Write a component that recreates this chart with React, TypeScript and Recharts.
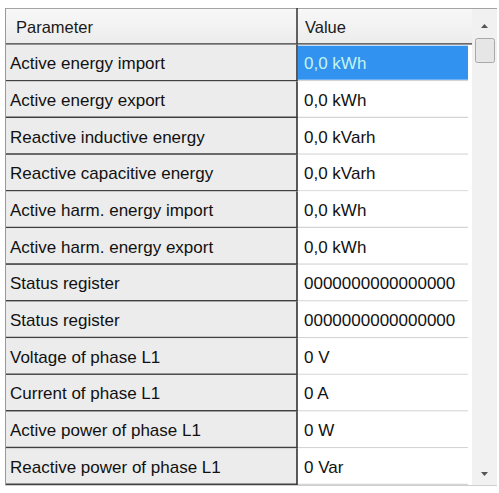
import { BarChart, Bar, XAxis, YAxis } from "recharts";

// column titles and table contents
const headers = ["Parameter", "Value"];
const parameters = [
  "Active energy import",
  "Active energy export",
  "Reactive inductive energy",
  "Reactive capacitive energy",
  "Active harm. energy import",
  "Active harm. energy export",
  "Status register",
  "Status register",
  "Voltage of phase L1",
  "Current of phase L1",
  "Active power of phase L1",
  "Reactive power of phase L1",
];
const values = [
  "0,0 kWh",
  "0,0 kWh",
  "0,0 kVarh",
  "0,0 kVarh",
  "0,0 kWh",
  "0,0 kWh",
  "0000000000000000",
  "0000000000000000",
  "0 V",
  "0 A",
  "0 W",
  "0 Var",
];
const selectedRow = 0;

const W = 467;
const H = 477;
const SPLIT = 292 / 467;
const FONT = "'Liberation Sans', Arial, sans-serif";

const rows = [
  { param: headers[0], value: headers[1], span: 1, kind: "header" },
  ...parameters.map((p, i) => ({ param: p, value: values[i], span: 1, kind: i === selectedRow ? "selected" : "row" })),
];

function RowShape(props: any) {
  const { x, y, width, height, payload } = props;
  const mid = x + width * SPLIT;
  const right = x + width;
  const bottom = y + height;
  const ty = y + height / 2 + 6;

  if (payload.kind === "header") {
    return (
      <g>
        <rect x={x} y={y} width={width} height={height} fill="url(#hdr)" />
        <line x1={x} x2={right} y1={y + 0.5} y2={y + 0.5} stroke="#a4a4a4" />
        <line x1={x} x2={right} y1={bottom - 1} y2={bottom - 1} stroke="#3c3c3c" strokeWidth={1.6} />
        <line x1={mid} x2={mid} y1={y} y2={bottom} stroke="#3c3c3c" strokeWidth={1.6} />
        <text x={x + 11} y={ty} fontSize={16.5} fill="#1a1a1a" fontFamily={FONT}>{payload.param}</text>
        <text x={mid + 8} y={ty} fontSize={16.5} fill="#1a1a1a" fontFamily={FONT}>{payload.value}</text>
      </g>
    );
  }

  const sel = payload.kind === "selected";
  return (
    <g>
      <rect x={x} y={y} width={mid - x} height={height} fill="#ececec" />
      <rect x={mid} y={y} width={right - mid} height={height} fill="#ffffff" />
      {sel && <rect x={mid + 1} y={y + 1} width={right - mid - 5} height={height - 3} fill="#3192ef" />}
      <line x1={x} x2={mid} y1={bottom - 1} y2={bottom - 1} stroke="#404040" strokeWidth={1.6} />
      <line x1={mid} x2={right - 4} y1={bottom - 1} y2={bottom - 1} stroke="#d4d4d4" strokeWidth={1.2} />
      <line x1={mid} x2={mid} y1={y} y2={bottom} stroke="#333333" strokeWidth={1.6} />
      <text x={x + 5} y={ty} fontSize={17} fill="#111" fontFamily={FONT}>{payload.param}</text>
      <text x={mid + 7} y={ty} fontSize={17} fill={sel ? "#c4f4ee" : "#111"} fontFamily={FONT}>{payload.value}</text>
    </g>
  );
}

function ScrollBar() {
  return (
    <svg width={25} height={H} style={{ position: "absolute", left: 472, top: 8 }}>
      <rect x={0} y={0} width={25} height={H} fill="#f1f1f1" />
      <line x1={0} x2={25} y1={0.5} y2={0.5} stroke="#a4a4a4" />
      <path d="M9 20 L16 20 L12.5 16 Z" fill="#555" />
      <rect x={3.5} y={30.5} width={19} height={24} rx={2} fill="#e6e6e6" stroke="#a9a9a9" />
      <path d="M9 464 L16 464 L12.5 468 Z" fill="#555" />
    </svg>
  );
}

export default function App() {
  return (
    <div style={{ position: "fixed", left: 0, top: 0, width: 499, height: 493, background: "#ffffff" }}>
      <div style={{ position: "absolute", left: 5, top: 8, width: W, height: H }}>
        <BarChart width={W} height={H} data={rows} layout="vertical" barCategoryGap={0}
          margin={{ top: 0, right: 0, bottom: 0, left: 0 }}>
          <defs>
            <linearGradient id="hdr" x1="0" y1="0" x2="0" y2="1">
              <stop offset="0%" stopColor="#f8f8f8" />
              <stop offset="100%" stopColor="#ececec" />
            </linearGradient>
          </defs>
          <XAxis type="number" domain={[0, 1]} hide />
          <YAxis type="category" dataKey="param" hide />
          <Bar dataKey="span" shape={RowShape} isAnimationActive={false} />
        </BarChart>
      </div>
      <div style={{ position: "absolute", left: 5, top: 8, width: 1, height: H, background: "#9a9a9a" }} />
      <div style={{ position: "absolute", left: 5, top: 8 + H, width: 492, height: 1, background: "#cfcfcf" }} />
      <ScrollBar />
    </div>
  );
}
